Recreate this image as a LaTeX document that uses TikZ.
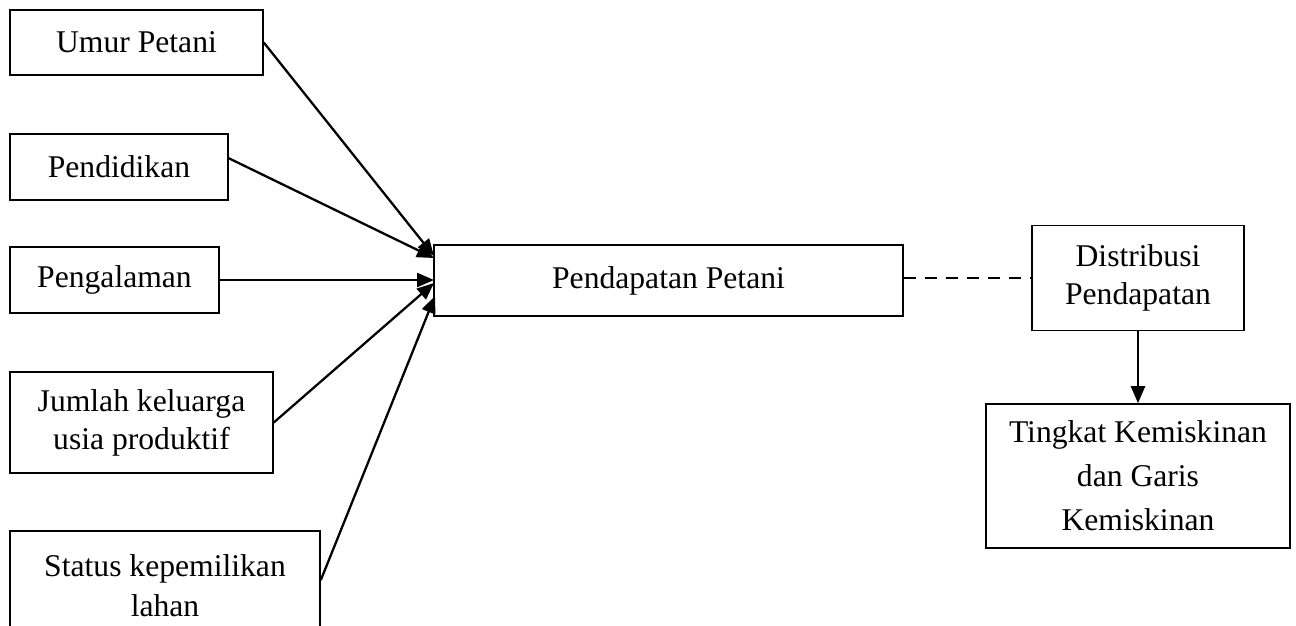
\documentclass[tikz,border=0pt]{standalone}
\usepackage{fontspec}
\setmainfont{Liberation Serif}
\usepackage{tikz}
\usetikzlibrary{arrows.meta}

\tikzset{
    kotak/.style={draw,line width=0.9pt,inner sep=0pt,align=center,font=\fontsize{18}{21.6}\selectfont},
    panah/.style={line width=1.3pt,-{Triangle[length=0.34cm,width=0.28cm]}}
}

\begin{document}
\begin{tikzpicture}[x=0.02cm,y=-0.02cm]
            \clip (0,0) rectangle (1296,626);
            %kotak faktor
            \node[kotak,minimum width=5.06cm,minimum height=1.30cm] (umur) at (136.5,42.5) {Umur Petani};
            \node[kotak,minimum width=4.36cm,minimum height=1.32cm] (didik) at (119,167) {Pendidikan};
            \node[kotak,minimum width=4.18cm,minimum height=1.32cm] (alam) at (114.5,280) {Pengalaman};
            \node[kotak,minimum width=5.26cm,minimum height=2.02cm] (keluarga) at (141.5,422.5) {Jumlah keluarga\\usia produktif};
            \node[kotak,minimum width=6.20cm,minimum height=2.18cm] (lahan) at (165,585.5) {Status kepemilikan\\[1.5pt]lahan};
            %kotak hasil
            \node[kotak,minimum width=9.38cm,minimum height=1.42cm] (pendapatan) at (668.5,280.5) {Pendapatan Petani};
            \node[kotak,minimum width=4.24cm,minimum height=2.10cm] (distribusi) at (1138,278) {Distribusi\\Pendapatan};
            \node[kotak,minimum width=6.08cm,minimum height=2.88cm] (miskin) at (1138,476) {Tingkat Kemiskinan\\[3.5pt]dan Garis\\[3.5pt]Kemiskinan};
            %titik ujung panah
            \coordinate (u1) at (434,256);
            \coordinate (u2) at (434,258);
            \coordinate (u3) at (434,280);
            \coordinate (u4) at (434,283);
            \coordinate (u5) at (435,296);
            \draw[panah] (umur.east) -- (u1);
            \draw[panah] ([yshift=5pt]didik.east) -- (u2);
            \draw[panah] (alam.east) -- (u3);
            \draw[panah] (keluarga.east) -- (u4);
            \draw[panah] ([yshift=3pt]lahan.east) -- (u5);
            \draw[line width=0.9pt,dash pattern=on 0.24cm off 0.18cm] (distribusi.west -| pendapatan.east) -- (distribusi.west);
            \draw[panah] (distribusi.south) -- (miskin.north);
        \end{tikzpicture}
\end{document}
